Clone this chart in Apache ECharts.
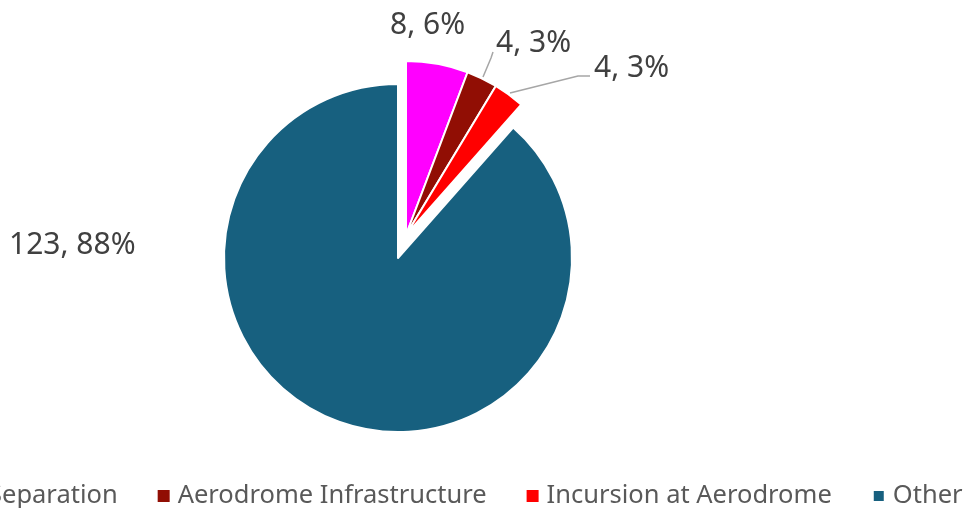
<!DOCTYPE html>
<html>
<head>
<meta charset="utf-8">
<script src="https://cdn.jsdelivr.net/npm/echarts@6/dist/echarts.min.js"></script>
<style>
  html, body { margin: 0; padding: 0; background: #fff; }
  #chart { width: 967px; height: 508px; }
</style>
</head>
<body>
<div id="chart"></div>
<script>
// 数据
const categories = ['Separation', 'Aerodrome Infrastructure', 'Incursion at Aerodrome', 'Other'];
const counts = [8, 4, 4, 123];
const colors = ['#FF00FF', '#910E04', '#FF0000', '#17607F'];
const explodedNames = ['Separation', 'Aerodrome Infrastructure', 'Incursion at Aerodrome'];

const chart = echarts.init(document.getElementById('chart'));
const FONT = 'Noto Sans';
const clear = 'rgba(0,0,0,0)';

// 标签位置（手动摆放，对齐原图）
const labelPos = {
  'Separation': {x: 390, y: 25, line: null},
  'Aerodrome Infrastructure': {x: 496, y: 43, line: [[483, 77], [491, 58], [493, 52]]},
  'Incursion at Aerodrome': {x: 594, y: 68, line: [[510, 93], [578, 76], [590, 76]]},
  'Other': {x: 9, y: 245, line: null}
};

const makeData = (exploded) => categories.map((name, i) => {
  const visible = exploded ? explodedNames.includes(name) : !explodedNames.includes(name);
  return {
    name,
    value: counts[i],
    itemStyle: visible ? {color: colors[i], borderColor: '#fff', borderWidth: 2} : {color: clear, borderWidth: 0},
    label: {show: visible},
    labelLine: {show: visible && !!labelPos[name].line}
  };
});

const layoutFn = (params) => {
  const name = categories[params.dataIndex];
  const p = labelPos[name];
  const res = {x: p.x, y: p.y, align: 'left', verticalAlign: 'middle'};
  if (p.line) res.labelLinePoints = p.line;
  return res;
};

const commonSeries = {
  type: 'pie',
  radius: 174,
  startAngle: 90,
  clockwise: true,
  percentPrecision: 0,
  avoidLabelOverlap: false,
  emphasis: {disabled: true},
  label: {
    formatter: '{c}, {d}%',
    color: '#404040',
    fontSize: 30,
    fontFamily: FONT
  },
  labelLine: {
    lineStyle: {color: '#A6A6A6', width: 1.5}
  },
  labelLayout: layoutFn
};

const option = {
  backgroundColor: '#fff',
  animation: false,
  legend: {
    data: categories.map((name, i) => ({name, itemStyle: {color: colors[i]}})),
    icon: 'rect',
    itemWidth: 12,
    itemHeight: 12,
    itemGap: 40,
    left: -37,
    top: 478,
    width: 1300,
    selectedMode: false,
    textStyle: {
      color: '#595959',
      fontSize: 25.5,
      fontFamily: FONT,
      padding: [0, 0, 0, 3]
    }
  },
  series: [
    Object.assign({}, commonSeries, {name: 'main', center: [398, 258], data: makeData(false)}),
    Object.assign({}, commonSeries, {name: 'exploded', center: [406, 235], data: makeData(true)})
  ]
};

chart.setOption(option);
</script>
</body>
</html>
